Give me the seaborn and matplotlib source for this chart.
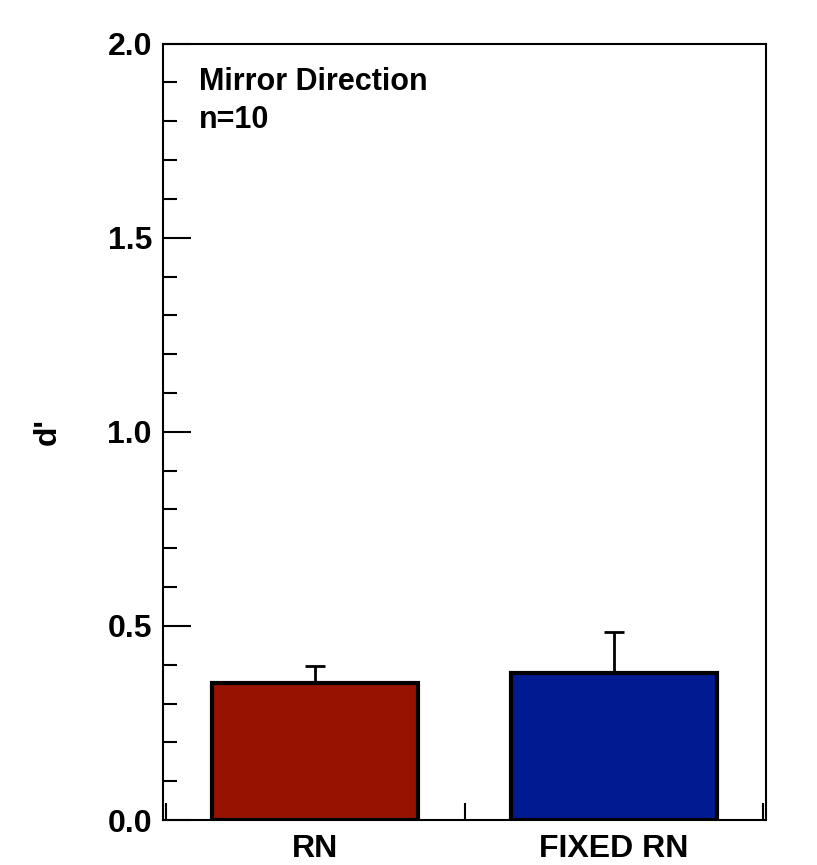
import numpy as np
import pandas as pd
import matplotlib
matplotlib.use("Agg")
import matplotlib.pyplot as plt
import seaborn as sns

# --- data ---
conditions = ["RN", "FIXED RN"]
d_prime = [0.352, 0.380]
sem = [0.046, 0.104]
bar_colors = ["#951300", "#001a92"]

df = pd.DataFrame({"condition": conditions, "d": d_prime})

sns.set_style("ticks", rc={"text.color": "black", "axes.labelcolor": "black",
                           "xtick.color": "black", "ytick.color": "black",
                           "axes.edgecolor": "black"})
plt.rcParams["font.family"] = ["Liberation Sans", "DejaVu Sans"]
plt.rcParams["font.weight"] = "bold"

fig = plt.figure(figsize=(8.17, 8.65), dpi=100)
ax = fig.add_axes([0.1995, 0.052, 0.7381, 0.8975])

sns.barplot(data=df, x="condition", y="d", hue="condition", order=conditions,
            palette=bar_colors, saturation=1, legend=False, width=0.69,
            edgecolor="black", linewidth=3, ax=ax, zorder=3)

# upper-only error bars
ax.errorbar(np.arange(len(conditions)), d_prime, yerr=[[0] * len(sem), sem],
            fmt="none", ecolor="black", elinewidth=2, capsize=7, capthick=2,
            zorder=2)

ax.set_ylim(0, 2.0)
ax.set_xlim(-0.51, 1.51)
ax.set_yticks(np.arange(0, 2.01, 0.5))
ax.set_yticklabels([f"{v:.1f}" for v in np.arange(0, 2.01, 0.5)])
ax.set_yticks(np.arange(0, 2.01, 0.1), minor=True)
ax.tick_params(axis="y", which="major", direction="in", length=20, width=1.5,
               labelsize=23, pad=8)
ax.tick_params(axis="y", which="minor", direction="in", length=10, width=1.5)

# category boundary ticks on the x axis
ax.set_xticks([0, 1])
ax.set_xticklabels(conditions, fontsize=23, fontweight="bold")
ax.set_xticks([-0.5, 0.5, 1.5], minor=True)
ax.tick_params(axis="x", which="major", length=0, pad=10)
ax.tick_params(axis="x", which="minor", direction="in", length=12, width=1.5)

for s in ax.spines.values():
    s.set_linewidth(1.5)
    s.set_visible(True)

ax.set_xlabel("")
ax.set_ylabel("d'", fontsize=23, fontweight="bold", labelpad=32)

ax.text(0.06, 0.970, "Mirror Direction\nn=10", transform=ax.transAxes,
        fontsize=22, fontweight="bold", va="top", ha="left", linespacing=1.35)

fig.savefig("out.png", dpi=100)
